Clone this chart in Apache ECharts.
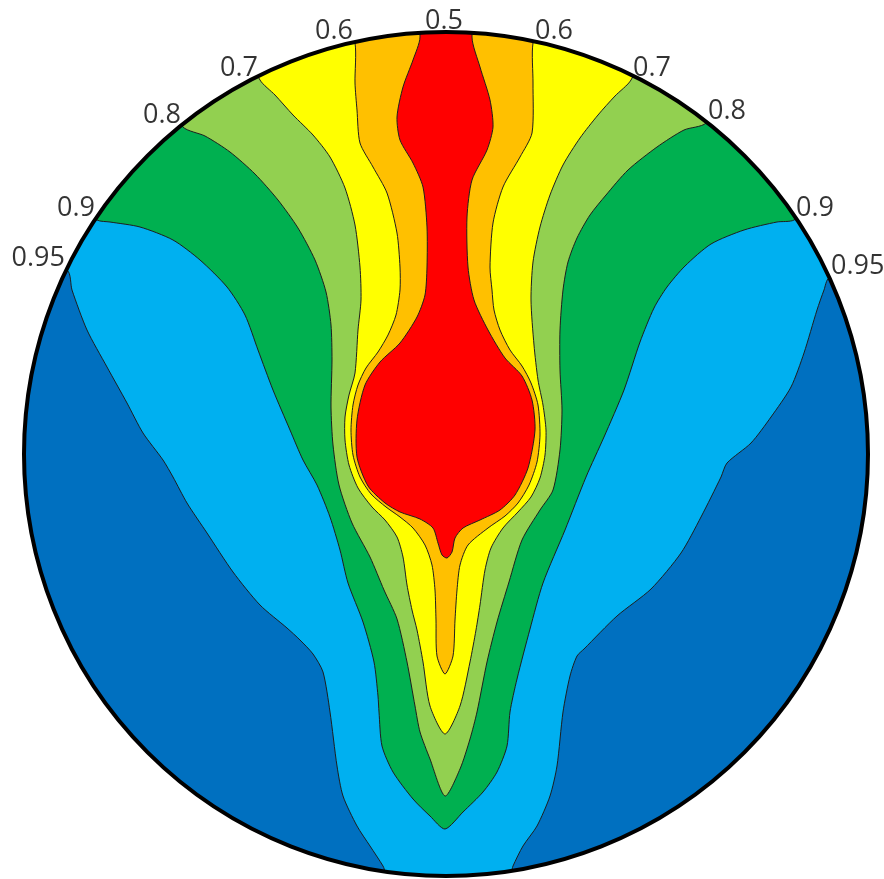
<!DOCTYPE html>
<html>
<head>
<meta charset="utf-8">
<script src="https://cdn.jsdelivr.net/npm/echarts@6/dist/echarts.min.js"></script>
<style>
html,body{margin:0;padding:0;background:#fff;}
#main{width:884px;height:879px;}
</style>
</head>
<body>
<div id="main"></div>
<script>
// contour lines (x to the right, y downwards),
// each one runs from its left end on the rim, down and round, to its right end on the rim
var c95 = [[67,270],[72,290],[87,330],[107,367],[127,403],[143,433],[163,460],[173,477],[187,503],[207,533],[233,572],[260,605],[287,628],[300,640],[313,654],[323,672],[330,712],[337,766],[343,796],[357,826],[370,846],[383,866],[390,880],[508,880],[513,866],[523,846],[537,826],[550,796],[557,766],[563,712],[570,676],[577,656],[584,649],[617,616],[651,589],[681,553],[701,517],[721,477],[727,463],[751,443],[771,417],[791,387],[804,353],[817,310],[824,290],[829,278]];
var c90 = [[97,220],[110,222],[140,227],[173,240],[200,260],[227,287],[245,315],[258,350],[273,390],[290,430],[303,460],[317,485],[330,517],[340,550],[348,583],[363,622],[374,662],[378,696],[379,712],[382,746],[393,772],[413,799],[430,816],[445,829],[463,812],[483,792],[497,772],[507,746],[510,712],[517,679],[530,629],[543,583],[565,530],[586,477],[604,437],[624,390],[640,342],[654,308],[667,287],[685,266],[711,244],[744,230],[777,222],[794,220]];
var c80 = [[183,127],[205,136],[230,152],[255,174],[278,200],[298,228],[315,260],[326,292],[331,325],[332,360],[331,407],[333,445],[339,485],[352,523],[370,557],[384,590],[397,619],[407,662],[415,706],[420,732],[430,759],[445,796],[460,769],[470,739],[477,712],[487,662],[497,622],[509,582],[522,540],[540,510],[553,490],[560,450],[562,410],[560,370],[560,330],[563,290],[568,262],[577,238],[590,215],[606,195],[628,170],[657,147],[684,130],[706,123]];
var c70 = [[260,80],[275,95],[293,115],[313,135],[330,157],[345,188],[355,225],[360,267],[361,300],[358,330],[355,373],[349,395],[345,417],[345,440],[349,465],[358,488],[372,507],[385,520],[397,537],[403,557],[407,585],[412,610],[417,630],[423,662],[430,706],[445,734],[460,706],[470,662],[476,630],[480,605],[485,570],[491,548],[503,528],[518,512],[531,497],[540,478],[545,455],[546,430],[543,405],[538,380],[534,345],[531,300],[533,262],[540,227],[550,195],[563,165],[580,138],[598,115],[615,96],[631,80]];
var c60 = [[355,43],[355,83],[357,110],[360,143],[373,167],[387,193],[397,233],[400,267],[400,290],[396,315],[388,335],[378,352],[366,368],[358,385],[353,405],[351,430],[353,455],[360,477],[371,494],[386,507],[400,517],[413,528],[425,545],[432,565],[435,590],[436,620],[437,656],[445,674],[453,656],[455,620],[457,590],[460,565],[468,545],[488,528],[505,516],[518,503],[529,485],[537,462],[540,435],[538,405],[531,383],[522,366],[510,350],[500,330],[494,310],[492,290],[490,267],[493,223],[503,187],[520,157],[532,133],[533,83],[533,43]];
var c50 = [[420,37],[413,60],[403,87],[397,117],[400,140],[413,163],[423,187],[427,227],[427,267],[425,295],[417,317],[400,343],[380,362],[365,385],[357,420],[357,457],[368,486],[385,503],[400,512],[420,519],[433,528],[438,543],[442,555],[447,558],[452,552],[455,538],[463,528],[480,520],[500,510],[515,495],[528,468],[535,430],[532,400],[522,376],[505,358],[488,330],[474,300],[468,267],[467,217],[472,180],[487,150],[493,127],[490,100],[480,67],[472,37]];

var levels = ['0.95', '0.9', '0.8', '0.7', '0.6', '0.5'];
var contours = [c95, c90, c80, c70, c60, c50];
var fills = ['#00B0F0', '#00B050', '#92D050', '#FFFF00', '#FFC000', '#FF0000'];
var outside = '#0070C0';
var rim = {x: 446, y: 454, r: 422};

var chart = echarts.init(document.getElementById('main'));

function rimGeo(api) {
    var c = api.coord([rim.x, rim.y]);
    var r = api.size([rim.r, rim.r])[0];
    return {c: c, r: r};
}

// one filled band: area enclosed by the contour and the top of the rim, clipped to the disc
function bandSeries(pts, color) {
    return {
        type: 'custom',
        coordinateSystem: 'cartesian2d',
        data: [pts[0]],
        clip: false,
        renderItem: function (params, api) {
            var g = rimGeo(api);
            var c = g.c, r = g.r;
            var p = pts.map(function (d) { return api.coord(d); });
            function ext(q) { return [c[0] + (q[0] - c[0]) * 1.3, c[1] + (q[1] - c[1]) * 1.3]; }
            var a = ext(p[0]), b = ext(p[p.length - 1]);
            var top = c[1] - 2 * r;
            var poly = [[a[0], top], a].concat(p, [b, [b[0], top]]);
            return {
                type: 'group',
                clipPath: {type: 'circle', shape: {cx: c[0], cy: c[1], r: r}},
                children: [{
                    type: 'polygon',
                    shape: {points: poly, smooth: 0.25},
                    style: {fill: color, stroke: '#1e1e1e', lineWidth: 1}
                }]
            };
        }
    };
}

var series = [];
series.push({
    type: 'custom',
    coordinateSystem: 'cartesian2d',
    data: [[rim.x, rim.y]],
    clip: false,
    renderItem: function (params, api) {
        var g = rimGeo(api);
        return {type: 'circle', shape: {cx: g.c[0], cy: g.c[1], r: g.r}, style: {fill: outside}};
    }
});
contours.forEach(function (pts, i) { series.push(bandSeries(pts, fills[i])); });
series.push({
    type: 'custom',
    coordinateSystem: 'cartesian2d',
    data: [[rim.x, rim.y]],
    clip: false,
    renderItem: function (params, api) {
        var g = rimGeo(api);
        return {type: 'circle', shape: {cx: g.c[0], cy: g.c[1], r: g.r}, style: {fill: 'none', stroke: '#000', lineWidth: 4}};
    }
});

// level labels sit where each contour meets the rim
var labelData = [];
levels.forEach(function (lv, i) {
    var pts = contours[i];
    var first = pts[0], last = pts[pts.length - 1];
    if (lv === '0.5') {
        labelData.push({name: lv, value: [(first[0] + last[0]) / 2, first[1]], label: {align: 'center', offset: [-2, -2]}});
    } else {
        labelData.push({name: lv, value: first, label: {align: 'right', offset: [-2, 2]}});
        labelData.push({name: lv, value: last, label: {align: 'left', offset: [2, 2]}});
    }
});
series.push({
    type: 'scatter',
    data: labelData,
    symbolSize: 1,
    itemStyle: {color: 'rgba(0,0,0,0)'},
    label: {
        show: true,
        position: 'inside',
        verticalAlign: 'bottom',
        formatter: '{b}',
        fontFamily: 'Open Sans',
        fontSize: 27,
        color: '#000'
    },
    z: 10
});

chart.setOption({
    animation: false,
    backgroundColor: '#fff',
    grid: {left: 0, right: 0, top: 0, bottom: 0},
    xAxis: {type: 'value', min: 0, max: 884, show: false},
    yAxis: {type: 'value', min: 0, max: 879, inverse: true, show: false},
    series: series
});
</script>
</body>
</html>
